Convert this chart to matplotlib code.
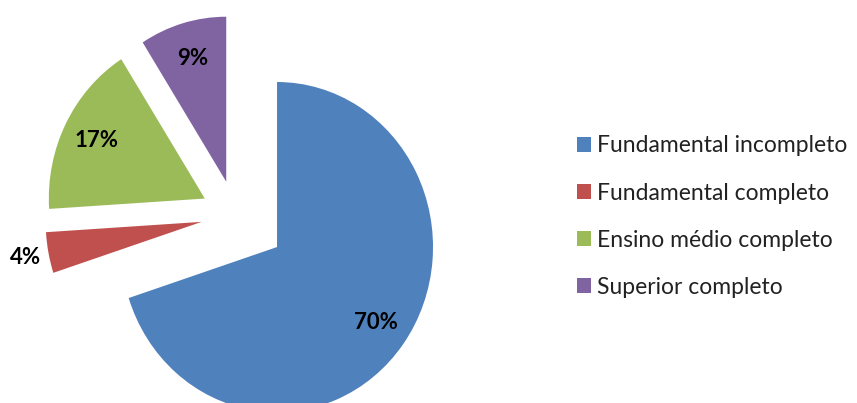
import numpy as np
import matplotlib.pyplot as plt

categories = ["Fundamental incompleto", "Fundamental completo",
              "Ensino médio completo", "Superior completo"]
shares = [70, 4, 17, 9]
colors = ["#4F81BD", "#C0504D", "#9BBB59", "#8064A2"]
explode = [0.33, 0.22, 0.22, 0.21]

plt.rcParams["font.family"] = ["Lato", "DejaVu Sans"]

fig = plt.figure(figsize=(8.57, 4.03), dpi=100)
ax = fig.add_axes([0, 0, 1, 1])

wedges, autotexts = ax.pie(
    shares, colors=colors, explode=explode, startangle=90, counterclock=False,
    autopct=lambda p: f"{p:.0f}%", pctdistance=0.78,
    textprops=dict(fontsize=16, fontweight="bold", color="black"),
    wedgeprops=dict(linewidth=0),
)[0::2]

# the small slice gets its label outside the wedge
w = wedges[1]
mid = np.deg2rad((w.theta1 + w.theta2) / 2)
autotexts[1].set_position((w.center[0] + 1.15 * np.cos(mid),
                           w.center[1] + 1.15 * np.sin(mid)))

# slightly taller than wide, like the exported chart
ax.set_aspect("auto")
ax.set_xlim(-1.509, 3.985)
ax.set_ylim(-1.139, 1.303)
ax.axis("off")

fig.legend(wedges, categories, loc="upper left", bbox_to_anchor=(566 / 857, 1 - 124 / 403),
           frameon=False, fontsize=16.5, handlelength=0.6, handleheight=0.6,
           handletextpad=0.25, labelspacing=1.14, borderpad=0, labelcolor="#222222")

fig.savefig("out.png", dpi=100)
